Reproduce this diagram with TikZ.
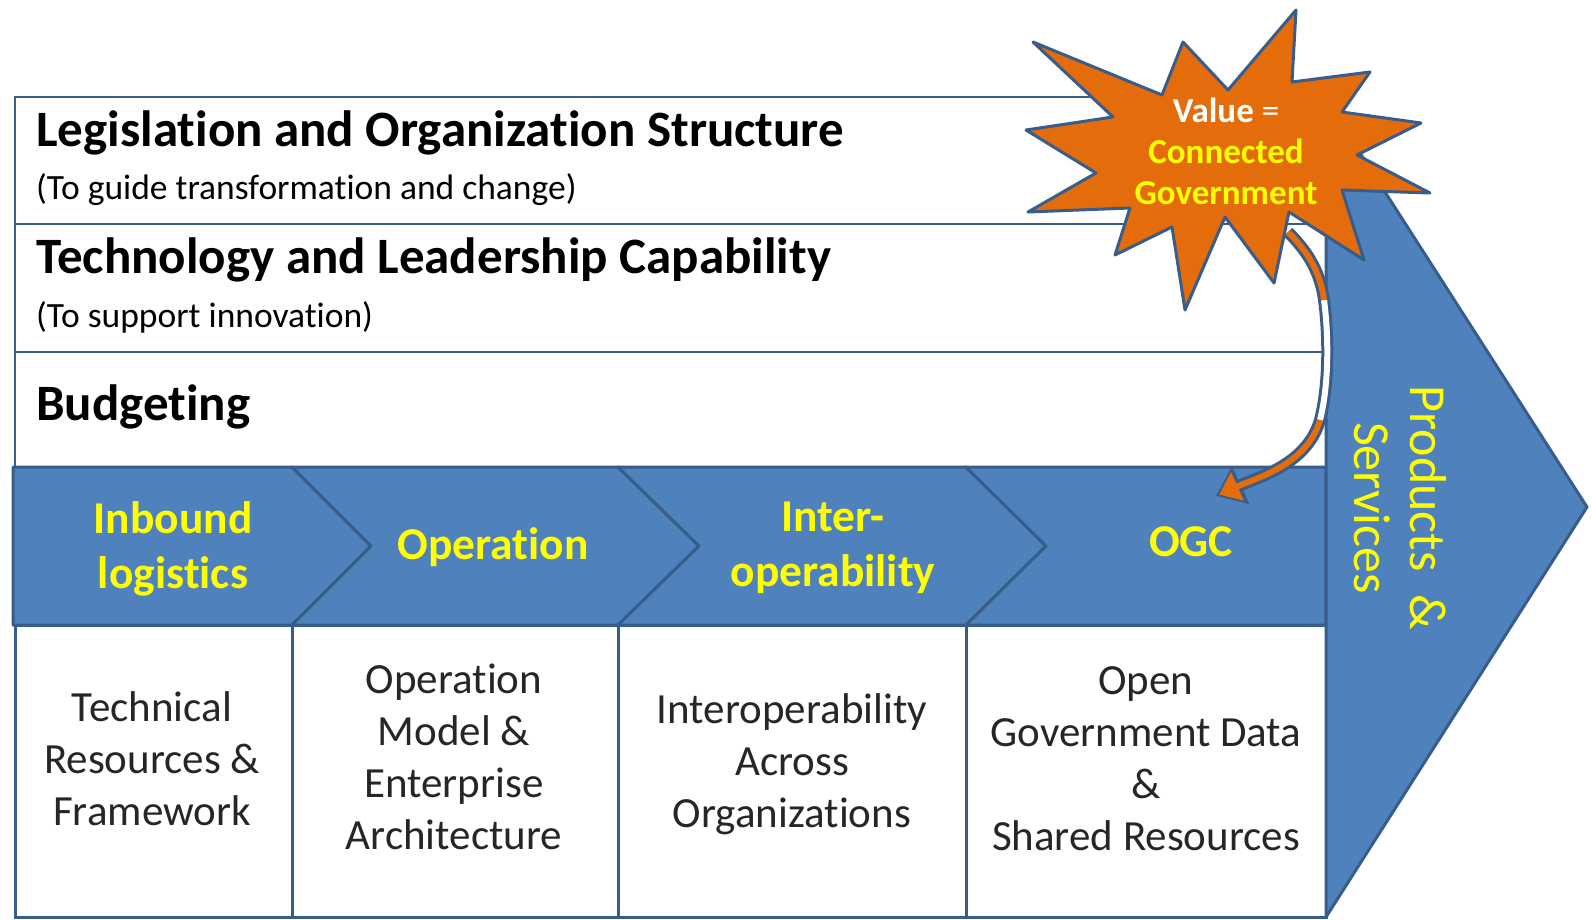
\documentclass[tikz,border=0pt]{standalone}
\usepackage{fontspec}
\setmainfont{Carlito}[Ligatures=NoCommon]
\usetikzlibrary{positioning,calc,arrows.meta}
\definecolor{bandblue}{RGB}{79,129,189}
\definecolor{edgeblue}{RGB}{56,93,138}
\definecolor{starorange}{RGB}{228,108,10}
\definecolor{labelyellow}{RGB}{255,255,0}

\begin{document}
\begin{tikzpicture}[x=1pt, y=-1pt,
    layer/.style={anchor=west, inner sep=0pt, font=\fontsize{51}{56}\selectfont\bfseries},
    note/.style={anchor=west, inner sep=0pt, font=\fontsize{35.5}{40}\selectfont},
    stage/.style={align=center, inner sep=0pt, text=labelyellow, font=\fontsize{45.5}{55}\selectfont\bfseries},
    pillar/.style={align=center, inner sep=0pt, text=black!85, font=\fontsize{43}{52}\selectfont},
    chevron/.style={fill=bandblue, draw=edgeblue, line width=3pt, line join=round},
    cell/.style={draw=edgeblue, line width=3pt, fill=white}]
    \useasboundingbox (0,0) rectangle (1593,919);
    \fill[white] (0,0) rectangle (1593,919);

    \draw[edgeblue, line width=1.5pt] (15,97) rectangle (1326,467);
    \draw[edgeblue, line width=1.5pt] (15,224) -- (1326,224) (15,352) -- (1326,352);

    \draw[cell] (15,625) rectangle (292,917);
    \draw[cell] (292,625) rectangle (618,917);
    \draw[cell] (618,625) rectangle (966,917);
    \draw[cell] (966,625) rectangle (1326,917);

    \draw[chevron] (13,467) -- (292,467) -- (371,546) -- (292,625) -- (13,625) -- cycle;
    \draw[chevron] (292,467) -- (618,467) -- (699,546) -- (618,625) -- (292,625) -- (371,546) -- cycle;
    \draw[chevron] (618,467) -- (966,467) -- (1046,546) -- (966,625) -- (618,625) -- (699,546) -- cycle;
    \draw[chevron] (966,467) -- (1326,467) -- (1326,625) -- (966,625) -- (1046,546) -- cycle;

    \draw[chevron] (1326,100) -- (1587,507) -- (1326,917) -- cycle;

    \node[layer] (legis) at (36,133) {Legislation and Organization Structure};
    \node[note, below=57pt of legis.west, anchor=west] (guide) {(To guide transformation and change)};
    \node[layer] (techlead) at (36,260) {Technology and Leadership Capability};
    \node[note, below=57pt of techlead.west, anchor=west] (support) {(To support innovation)};
    \node[layer] (budget) at (36,407) {Budgeting};

    \node[stage] (inbound) at (173,549) {Inbound\\logistics};
    \node[stage] (operation) at (493,547) {Operation};
    \node[stage] (interop) at (833,548) {Inter-\\operability};
    \node[stage] (ogc) at (1191,542) {OGC};

    \node[pillar] (technical) at (152,759) {Technical\\Resources \&\\Framework};
    \node[pillar] (model) at (454,757) {Operation\\Model \&\\Enterprise\\Architecture};
    \node[pillar] (across) at (792,764) {Interoperability\\Across\\Organizations};
    \node[pillar] (opendata) at (1146,759) {Open\\Government Data\\\&\\Shared Resources};

    \node[align=center, inner sep=0pt, rotate=-90, text=labelyellow,
          font=\fontsize{52}{56}\selectfont] (products) at (1400,508) {Products\ \ \&\\Services};

    \coordinate (valuetail) at (1288,232);
    \coordinate (bendtop) at (1324,300);
    \coordinate (bendlow) at (1320,420);
    \coordinate (ogcin) at (1216,496);
    \draw[edgeblue, line width=12pt, -{Triangle[width=40pt,length=27pt]}]
        (valuetail) .. controls (1306,250) and (1320,270) .. (bendtop)
        .. controls (1328,330) and (1330,380) .. (bendlow)
        .. controls (1307,465) and (1256,478) .. (ogcin);
    \draw[white, line width=6pt] (bendtop) .. controls (1328,330) and (1330,380) .. (bendlow);
    \draw[starorange, line width=6pt] (valuetail) .. controls (1306,250) and (1320,270) .. (bendtop);
    \draw[starorange, line width=6pt, shorten >=3.5pt, -{Triangle[width=30pt,length=20pt]}]
        (bendlow) .. controls (1307,465) and (1256,478) .. (ogcin);

    \draw[fill=starorange, draw=edgeblue, line width=3pt, line join=round]
        (1033,42) -- (1162,95) -- (1183,42) -- (1228,90) -- (1296,10) -- (1292,82)
        -- (1370,72) -- (1342,112) -- (1421,123) -- (1357,155) -- (1430,193) -- (1342,190)
        -- (1364,260) -- (1289,212) -- (1274,283) -- (1225,217) -- (1185,310) -- (1172,227)
        -- (1115,255) -- (1130,208) -- (1028,212) -- (1096,173) -- (1026,130) -- (1113,117) -- cycle;
    \node[align=center, inner sep=0pt, text=labelyellow, font=\fontsize{35}{41}\selectfont\bfseries]
        (value) at (1226,151) {\textcolor{white}{Value \mdseries=}\\Connected\\Government};
\end{tikzpicture}
\end{document}
